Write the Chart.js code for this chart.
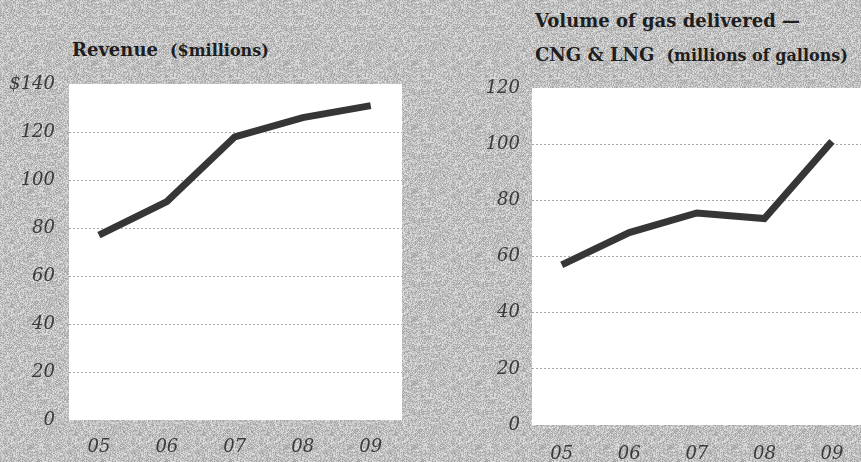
<!DOCTYPE html>
<html>
<head>
<meta charset="utf-8">
<script src="https://cdn.jsdelivr.net/npm/chart.js@4"></script>
<style>
  body { margin: 0; width: 861px; height: 462px; overflow: hidden; background-color: #bababa; position: relative; }
  .panel { position: absolute; top: 0; }
  .title { position: absolute; font-family: "DejaVu Serif", serif; font-weight: bold; color: #1e1e1e; white-space: nowrap; line-height: 22px; }
  .title .big { font-size: 18px; }
  .title .small { font-size: 16px; margin-left: 12px; }
</style>
</head>
<body>
<div class="title" style="left:72px; top:39px;"><span class="big">Revenue</span><span class="small">($millions)</span></div>
<div class="title" style="left:535px; top:10px;"><span class="big">Volume of gas delivered —</span></div>
<div class="title" style="left:535px; top:44px;"><span class="big">CNG &amp; LNG</span><span class="small">(millions of gallons)</span></div>

<div class="panel" style="left:0px;"><canvas id="revenueChart" width="430" height="462"></canvas></div>
<div class="panel" style="left:430px;"><canvas id="gasChart" width="431" height="462"></canvas></div>

<script>
// dados
const years = ['05', '06', '07', '08', '09'];
const revenue = [77, 91, 118, 126, 131];
const gasVolume = [57, 68.5, 75.5, 73.5, 101];
const revenueTicks = [0, 20, 40, 60, 80, 100, 120, 140];
const gasTicks = [0, 20, 40, 60, 80, 100, 120];

const tickFont = { family: 'DejaVu Serif', style: 'italic', size: 18 };
const tickColor = '#3a3a3a';

// textura de papel no fundo (padrao fixo, so decorativo)
(function paperTexture() {
    const c = document.createElement('canvas');
    c.width = 64; c.height = 64;
    const g = c.getContext('2d');
    const img = g.createImageData(64, 64);
    let s = 12345;
    for (let i = 0; i < 64 * 64; i++) {
        s = (s * 1103515245 + 12345) & 0x7fffffff;
        const v = 160 + ((s >> 8) % 66);
        img.data[i * 4] = v; img.data[i * 4 + 1] = v; img.data[i * 4 + 2] = v; img.data[i * 4 + 3] = 255;
    }
    g.putImageData(img, 0, 0);
    document.body.style.backgroundImage = 'url(' + c.toDataURL() + ')';
})();

// fundo branco so na area do grafico
const whiteArea = {
    id: 'whiteArea',
    beforeDraw(chart) {
        const a = chart.chartArea;
        const c = chart.ctx;
        c.save();
        c.fillStyle = '#ffffff';
        c.fillRect(a.left, a.top, a.right - a.left, a.bottom - a.top);
        c.restore();
    }
};

function makeChart(id, values, yTicks, opts) {
    const ctx = document.getElementById(id).getContext('2d');
    const yMax = yTicks[yTicks.length - 1];
    return new Chart(ctx, {
        type: 'line',
        data: {
            datasets: [{
                data: values.map((v, i) => ({ x: i, y: v })),
                borderColor: '#363636',
                borderWidth: 7,
                pointRadius: 0,
                tension: 0,
                fill: false
            }]
        },
        options: {
            responsive: false,
            animation: false,
            layout: { padding: { top: opts.top, right: opts.right, left: 0, bottom: 0 } },
            plugins: { legend: { display: false }, tooltip: { enabled: false } },
            scales: {
                x: {
                    type: 'linear',
                    min: opts.xMin,
                    max: opts.xMax,
                    afterBuildTicks: s => { s.ticks = years.map((_, i) => ({ value: i })); },
                    afterFit: s => { s.height = opts.xHeight; },
                    grid: { display: false },
                    border: { display: false },
                    ticks: {
                        padding: opts.xPad,
                        font: tickFont,
                        color: tickColor,
                        callback: v => years[v]
                    }
                },
                y: {
                    min: 0,
                    max: yMax,
                    afterBuildTicks: s => { s.ticks = yTicks.map(v => ({ value: v })); },
                    afterFit: s => { s.width = opts.yWidth; },
                    grid: {
                        drawTicks: false,
                        lineWidth: 1,
                        color: c => (c.tick.value === 0 || c.tick.value === yMax) ? 'rgba(0,0,0,0)' : '#a5a5a5'
                    },
                    border: { display: false, dash: [2, 2] },
                    ticks: {
                        padding: opts.yPad,
                        font: tickFont,
                        color: tickColor,
                        callback: v => (opts.dollar && v === yMax) ? '$' + v : String(v)
                    }
                }
            }
        },
        plugins: [whiteArea]
    });
}

makeChart('revenueChart', revenue, revenueTicks, {
    top: 84, right: 28, xHeight: 42, yWidth: 69, xPad: 9, yPad: 14,
    xMin: -0.44, xMax: 4.46, dollar: true
});

makeChart('gasChart', gasVolume, gasTicks, {
    top: 88, right: 0, xHeight: 37, yWidth: 102, xPad: 11, yPad: 12,
    xMin: -0.44, xMax: 4.43, dollar: false
});
</script>
</body>
</html>
